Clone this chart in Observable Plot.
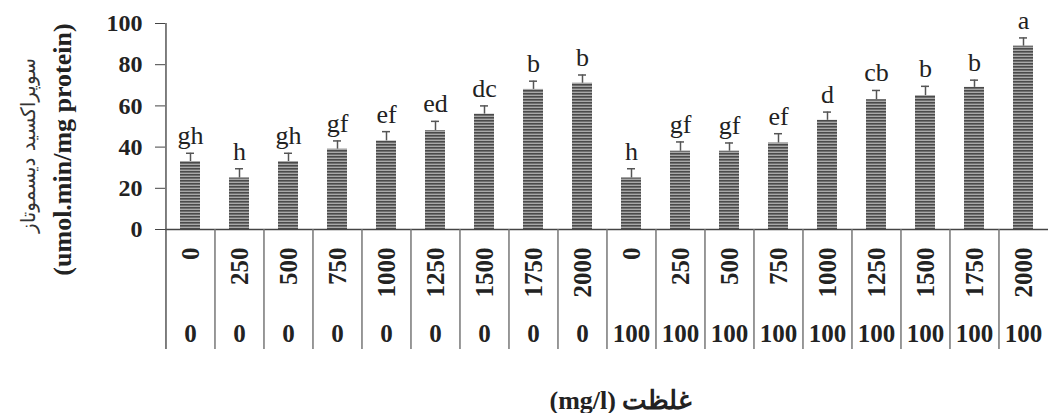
<!DOCTYPE html>
<html><head><meta charset="utf-8">
<script src="https://cdn.jsdelivr.net/npm/d3@7"></script>
<script src="https://cdn.jsdelivr.net/npm/@observablehq/plot@0.6"></script>
<style>body{margin:0;background:#fff} svg{display:block}</style>
</head><body><div id="chart"></div>
<script>
// ---- data ----
const concentrations = [0, 250, 500, 750, 1000, 1250, 1500, 1750, 2000, 0, 250, 500, 750, 1000, 1250, 1500, 1750, 2000];
const secondFactor   = [0, 0, 0, 0, 0, 0, 0, 0, 0, 100, 100, 100, 100, 100, 100, 100, 100, 100];
const activity       = [33, 25, 33, 39, 43, 48, 56, 68, 71, 25, 38, 38, 42, 53, 63, 65, 69, 89];
const errors         = [4, 4.5, 4, 4, 4.5, 4.5, 4, 4, 4, 4.5, 4.5, 4, 4.5, 4, 4.5, 4.5, 3.5, 4];
const letters        = ["gh","h","gh","gf","ef","ed","dc","b","b","h","gf","gf","ef","d","cb","b","b","a"];
const yTicks = [0, 20, 40, 60, 80, 100];
const yTitleFa = "سوپراکسید دیسموتاز";
const yTitleEn = "(umol.min/mg protein)";
const xTitle = "(mg/l) غلظت";

// ---- layout ----
const W = 1048, H = 413, ML = 165, MR = 0, MT = 23, MB = 184;
const n = activity.length;
const step = (W - ML - MR) / n;
const TABLE_DEPTH = 120;
const serif = "'Liberation Serif', 'Times New Roman', serif";

const rows = activity.map((v, i) => ({
  key: String(i), conc: String(concentrations[i]), second: String(secondFactor[i]),
  v, top: v + errors[i], letter: letters[i]
}));

const chart = Plot.plot({
  width: W, height: H,
  marginLeft: ML, marginRight: MR, marginTop: MT, marginBottom: MB,
  style: {fontFamily: serif, background: "#fff", overflow: "visible", color: "#222"},
  x: {domain: rows.map(d => d.key), paddingInner: 0.59, paddingOuter: 0.295, axis: null},
  y: {domain: [0, 100], axis: null},
  marks: [
    Plot.barY(rows, {x: "key", y: "v", fill: "url(#stripes)"}),
    Plot.ruleX(rows, {x: "key", y1: "v", y2: "top", stroke: "#555", strokeWidth: 1.5}),
    Plot.tickY(rows, {x: "key", y: "top", insetLeft: 6, insetRight: 6, stroke: "#555", strokeWidth: 1.5}),
    Plot.text(rows, {x: "key", y: "top", text: "letter", dy: -9, lineAnchor: "bottom", fontSize: 26, fill: "#222"}),
    Plot.axisY({ticks: yTicks, tickSize: 10, tickPadding: 13, fontSize: 24, fontWeight: "bold", stroke: "#444", label: null}),
    Plot.ruleY([0], {stroke: "#444", strokeWidth: 1.5}),
    Plot.ruleX([rows[0]], {x: "key", dx: -step / 2, insetBottom: -TABLE_DEPTH, stroke: "#555", strokeWidth: 1.5}),
    Plot.ruleX(rows.slice(1), {x: "key", dx: -step / 2, insetTop: H - MT - MB, insetBottom: -TABLE_DEPTH, stroke: "#777", strokeWidth: 1.5}),
    Plot.text(rows, {x: "key", text: "conc", frameAnchor: "bottom", dy: 18, rotate: -90, textAnchor: "end", lineAnchor: "middle", fontSize: 25, fontWeight: "bold", fill: "#222"}),
    Plot.text(rows, {x: "key", text: "second", frameAnchor: "bottom", dy: 104, lineAnchor: "middle", fontSize: 25, fontWeight: "bold", fill: "#222"}),
    Plot.text([yTitleFa], {text: d => d, frameAnchor: "left", dx: -137, dy: 19, rotate: -90, textAnchor: "middle", lineAnchor: "middle", fontSize: 20, fontFamily: "'DejaVu Sans', sans-serif", fill: "#333"}),
    Plot.text([yTitleEn], {text: d => d, frameAnchor: "left", dx: -103, dy: 23, rotate: -90, textAnchor: "middle", lineAnchor: "middle", fontSize: 26, fontWeight: "bold", fill: "#222"}),
    Plot.text([xTitle], {text: d => d, frameAnchor: "bottom", dx: 14, dy: 179, textAnchor: "middle", lineAnchor: "bottom", fontSize: 26, fontWeight: "bold", fill: "#222"})
  ]
});

// striped fill pattern for the bars
const svg = d3.select(chart);
const defs = svg.insert("defs", ":first-child");
const pat = defs.append("pattern").attr("id", "stripes").attr("patternUnits", "userSpaceOnUse")
  .attr("width", 6).attr("height", 3);
pat.append("rect").attr("width", 6).attr("height", 3).attr("fill", "#a8a8a8");
pat.append("rect").attr("width", 6).attr("height", 1.6).attr("fill", "#4a4a4a");

document.getElementById("chart").appendChild(chart);
</script>
</body></html>
